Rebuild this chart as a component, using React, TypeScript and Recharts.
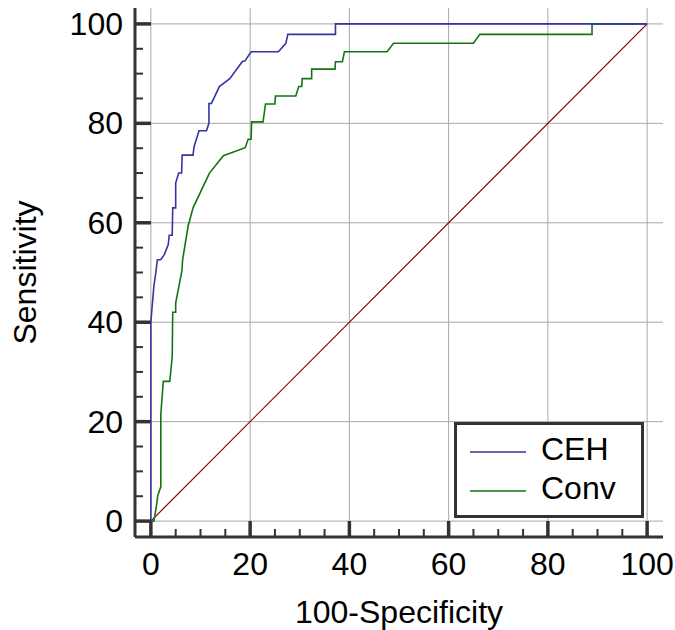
import React from 'react'
import { LineChart, Line, XAxis, YAxis, CartesianGrid, Legend } from 'recharts'

const FONT = '"Liberation Sans", Arial, sans-serif'

// ROC points (x = 100-Specificity, y = Sensitivity)
const cehX = [0, 0, 0.2, 0.6, 1, 1.3, 2, 2.7, 3.5, 3.7, 4.3, 4.4, 5, 5, 5.6, 6.2, 6.3, 8.5, 8.7, 9.7, 11.2, 11.7, 11.7, 12.2, 13.8, 15.9, 18.4, 19, 20.2, 25.7, 27.2, 27.6, 37.2, 37.2, 100]
const cehY = [0, 40, 42.5, 47.2, 50, 52.5, 52.6, 53.6, 55.6, 57.5, 57.5, 63, 63, 68, 70, 70, 73.6, 73.6, 75.3, 78.5, 78.5, 80, 84, 84, 87.4, 89, 92.4, 92.6, 94.4, 94.4, 96.1, 97.9, 97.9, 100, 100]

const convX = [0, 0.6, 1.1, 1.4, 2, 2, 2.5, 3.8, 4.3, 4.4, 5, 5, 6.25, 6.4, 7.5, 8.5, 11.8, 14.6, 19, 19.6, 20.2, 20.3, 22.6, 23.1, 25, 25.1, 29.2, 29.8, 30.4, 30.5, 32.4, 32.4, 37.1, 37.2, 38.6, 39, 47.6, 48.9, 65, 66.3, 88.9, 88.9, 100]
const convY = [0, 0, 2.9, 5.2, 6.9, 21.4, 28.1, 28.1, 33, 42, 42, 43.9, 50.3, 52.6, 59.3, 63, 70, 73.5, 75.1, 76.8, 76.8, 80.3, 80.3, 83.9, 83.9, 85.5, 85.5, 87.4, 87.4, 89, 89, 90.9, 90.9, 92.4, 92.4, 94.4, 94.4, 96.1, 96.1, 97.9, 97.9, 100, 100]

const refX = [0, 100]
const refY = [0, 100]

const majorTicks = [0, 20, 40, 60, 80, 100]
const allTicks = [0, 5, 10, 15, 20, 25, 30, 35, 40, 45, 50, 55, 60, 65, 70, 75, 80, 85, 90, 95, 100]

const toPoints = (xs: number[], ys: number[]) => xs.map((x, i) => ({ x, y: ys[i] }))
const ceh = toPoints(cehX, cehY)
const conv = toPoints(convX, convY)
const ref = toPoints(refX, refY)

const AXIS = '#333333'

function XTick(props: any) {
  const { x, y, payload } = props
  const major = payload.value % 20 === 0
  return (
    <g>
      <line x1={x} x2={x} y1={y} y2={y - (major ? 16 : 8)} stroke={AXIS} strokeWidth={major ? 3.5 : 2} />
      {major && (
        <text x={x} y={y + 38} textAnchor="middle" fontSize={32} fontFamily={FONT} fill="#000">{payload.value}</text>
      )}
    </g>
  )
}

function YTick(props: any) {
  const { x, y, payload } = props
  const major = payload.value % 20 === 0
  return (
    <g>
      <line x1={x} x2={x + (major ? 16 : 8)} y1={y} y2={y} stroke={AXIS} strokeWidth={major ? 3.5 : 2} />
      {major && (
        <text x={x - 12} y={y + 11} textAnchor="end" fontSize={32} fontFamily={FONT} fill="#000">{payload.value}</text>
      )}
    </g>
  )
}

function LegendBox(props: any) {
  const items = (props.payload || []).filter((p: any) => p.type !== 'none')
  return (
    <svg width={190} height={96} style={{ display: 'block' }}>
      <rect x={1.5} y={1.5} width={187} height={93} fill="#fff" stroke={AXIS} strokeWidth={3} />
      {items.map((p: any, i: number) => (
        <g key={p.value}>
          <line x1={16} x2={72} y1={30 + i * 39} y2={30 + i * 39} stroke={p.color} strokeWidth={1.5} />
          <text x={87} y={38 + i * 39} fontSize={32} fontFamily={FONT} fill="#000">{p.value}</text>
        </g>
      ))}
    </svg>
  )
}

export default function App() {
  return (
    <div style={{ position: 'absolute', left: 0, top: 0, background: '#fff' }}>
      <LineChart width={675} height={630} margin={{ top: 8, right: 12, bottom: 53, left: 60 }}>
        <CartesianGrid stroke="#a8a8a8" strokeWidth={1} horizontalValues={majorTicks} verticalValues={majorTicks} />
        <XAxis
          dataKey="x"
          type="number"
          domain={[-3.2, 103.2]}
          ticks={allTicks}
          interval={0}
          height={40}
          tickSize={0}
          tickMargin={0}
          tickLine={false}
          axisLine={{ stroke: AXIS, strokeWidth: 3 }}
          tick={<XTick />}
          label={{
            value: '100-Specificity',
            content: ({ viewBox }: any) => (
              <text x={viewBox.x + viewBox.width * 0.5} y={623} textAnchor="middle" fontSize={32} fontFamily={FONT} fill="#000">100-Specificity</text>
            ),
          }}
        />
        <YAxis
          dataKey="y"
          type="number"
          domain={[-3.2, 103.2]}
          ticks={allTicks}
          interval={0}
          width={75}
          tickSize={0}
          tickMargin={0}
          tickLine={false}
          axisLine={{ stroke: AXIS, strokeWidth: 3 }}
          tick={<YTick />}
          label={{
            value: 'Sensitivity',
            content: ({ viewBox }: any) => (
              <text transform={`translate(36, ${viewBox.y + viewBox.height * 0.5}) rotate(-90)`} textAnchor="middle" fontSize={32} fontFamily={FONT} fill="#000">Sensitivity</text>
            ),
          }}
        />
        <Legend
          layout="horizontal"
          verticalAlign="middle"
          align="center"
          content={<LegendBox />}
          wrapperStyle={{ position: 'absolute', left: 454, top: 422, width: 190, height: 96 }}
        />
        <Line data={ref} dataKey="y" name="ref" legendType="none" stroke="#8b0000" strokeWidth={1.2} dot={false} isAnimationActive={false} />
        <Line data={conv} dataKey="y" name="Conv" stroke="#127512" strokeWidth={1.6} dot={false} isAnimationActive={false} />
        <Line data={ceh} dataKey="y" name="CEH" stroke="#3535a3" strokeWidth={1.6} dot={false} isAnimationActive={false} />
      </LineChart>
    </div>
  )
}
